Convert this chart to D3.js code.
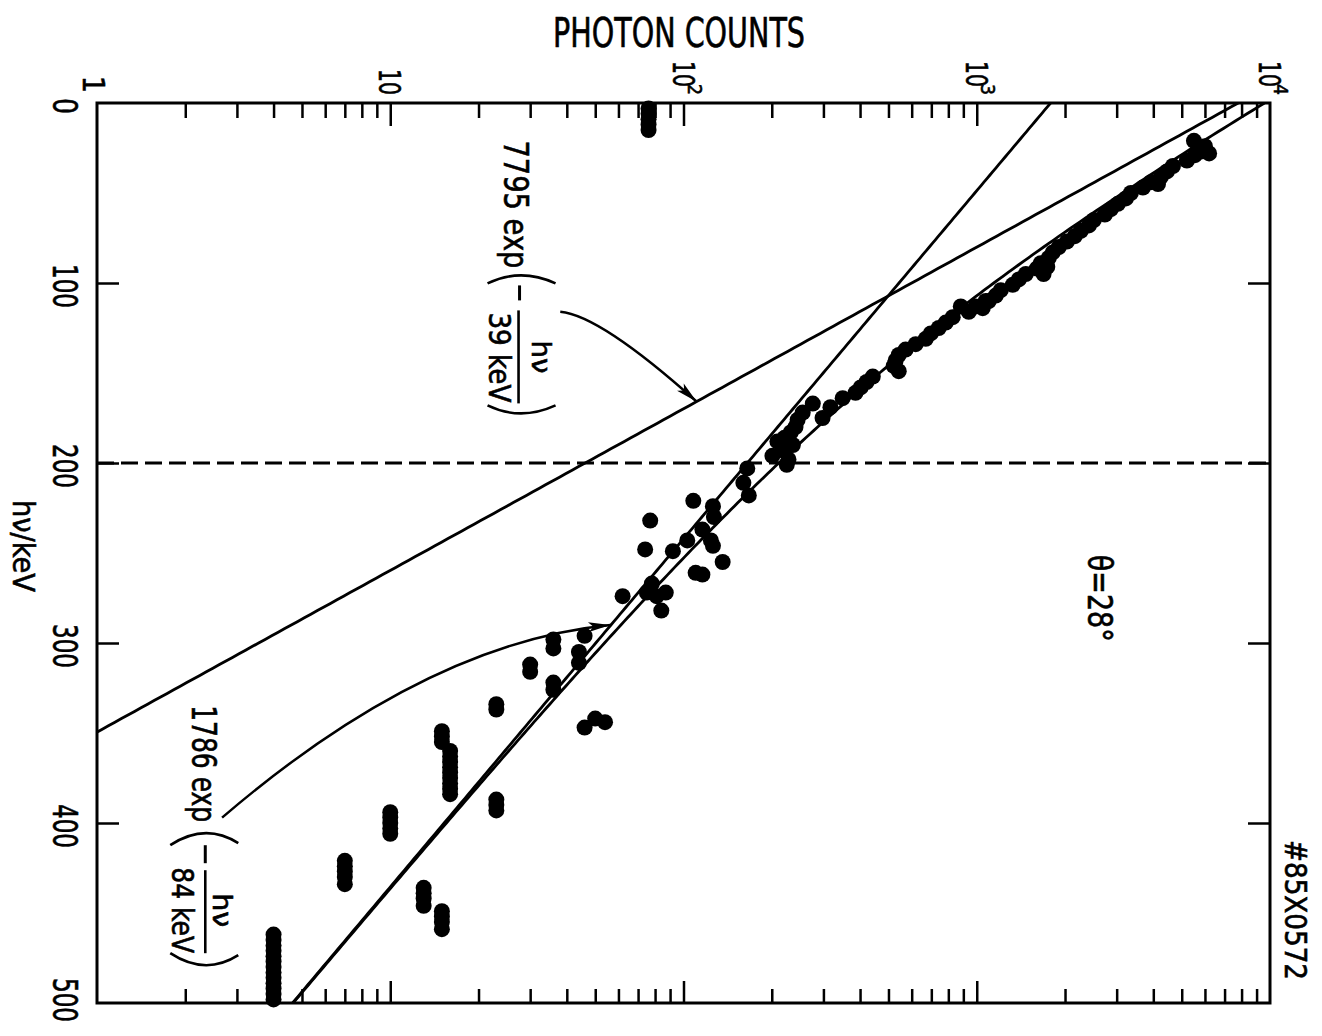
<!DOCTYPE html>
<html>
<head>
<meta charset="utf-8">
<script src="https://cdn.jsdelivr.net/npm/d3@7"></script>
<style>
  body { margin: 0; background: #fff; }
  text { font-family: "Liberation Sans Narrow", "DejaVu Sans Condensed", "Liberation Sans", sans-serif; fill: #000; stroke: #000; stroke-width: 0.6; }
</style>
</head>
<body>
<script>
  // axis ticks
  const countDecades = [1, 10, 100, 1000, 10000];
  const countExponents = ["", "", "2", "3", "4"];
  const energyTicks = [0, 100, 200, 300, 400, 500];

  // fitted components: A * exp(-hv / T)
  const fitAmplitude = [7795, 1786];
  const fitTemperature = [39, 84];

  // measured spectrum, theta = 28 deg
  const energyKeV = [
    3, 6, 9, 12, 15,
    21, 24, 27, 29, 32, 35, 38, 41, 44, 47, 50, 53, 56, 59, 62, 65, 68, 71, 74, 77,
    80, 83, 86, 89, 92, 95, 98, 101, 104, 107, 110, 113, 113, 116, 119, 122, 125, 128,
    131, 134, 137, 140, 143, 146, 149, 152, 155, 158, 161, 164, 167, 169, 172, 175, 176,
    180, 183, 186, 188, 190, 193, 196, 198, 201,
    91, 95, 110, 114, 28, 45,
    203, 211, 218, 221, 224, 230, 237, 243, 246, 232, 248, 243, 261, 262, 255, 249,
    267, 272, 274, 274, 272, 282,
    296, 298, 303, 305, 311, 312, 316, 322, 326, 334, 337, 347, 342, 344,
    349, 352, 355,
    360, 363, 366, 369, 372, 375, 378, 381, 384,
    387, 390, 393,
    394, 397, 400, 403, 406,
    421, 424, 427, 430, 434,
    436, 439, 442, 446,
    449, 452, 455, 459,
    462, 465, 468, 471, 474, 477, 480, 483, 486, 489, 492, 495, 498
  ];
  const photonCounts = [
    76, 76, 76, 76, 76,
    5504, 6000, 5815, 5546, 5208, 4667, 4452, 4246, 3925, 3686, 3354, 3225, 3029, 2867, 2734, 2507, 2412, 2264, 2160, 2029,
    1905, 1817, 1761, 1653, 1602, 1470, 1391, 1327, 1208, 1161, 1099, 992, 882, 939, 828, 784, 742, 697,
    670, 619, 572, 542, 529, 521, 542, 442, 421, 402, 386, 349, 276, 317, 255, 298, 245,
    241, 232, 221, 209, 236, 218, 201, 228, 225,
    1740, 1690, 1073, 1048, 6200, 4150,
    165, 160, 167, 108, 126, 127, 116, 124, 126, 77, 74, 103, 110, 116, 136, 92,
    78, 75, 62, 81, 87, 84,
    46, 36, 36, 44, 44, 30, 30, 36, 36, 23, 23, 46, 50, 54,
    15, 15, 15,
    16, 16, 16, 16, 16, 16, 16, 16, 16,
    23, 23, 23,
    10, 10, 10, 10, 10,
    7, 7, 7, 7, 7,
    13, 13, 13, 13,
    15, 15, 15, 15,
    4, 4, 4, 4, 4, 4, 4, 4, 4, 4, 4, 4, 4
  ];

  // annotation arrows (keV, counts): start, control, tip
  const arrow39 = [[116, 38], [118, 52], [166, 111]];
  const arrow84 = [[397, 2.67], [300, 13.2], [290, 56.3]];

  const width = 1322, height = 1036;

  const svg = d3.select('body')
    .append('svg')
    .attr('width', width)
    .attr('height', height)
    .style('background', '#fff');

  const x = d3.scaleLog().domain([1, 10000]).range([97, 1270]);
  const y = d3.scaleLinear().domain([0, 500]).range([103, 1003]);

  const [x0, x1] = x.range();
  const [y0, y1] = y.range();

  svg.append('clipPath').attr('id', 'plot')
    .append('rect')
    .attr('x', x0).attr('y', y0)
    .attr('width', x1 - x0).attr('height', y1 - y0);

  // ticks
  const minor = [];
  countDecades.slice(0, 4).forEach(function(d) {
    for (let k = 2; k <= 9; k++) minor.push(d * k);
  });
  const major = [10, 100, 1000];

  function styleAxis(g) {
    g.select('.domain').remove();
    g.selectAll('.tick line').attr('stroke', '#000').attr('stroke-width', 2.5);
  }

  svg.append('g').attr('transform', 'translate(0,' + y0 + ')')
    .call(d3.axisTop(x).tickValues(minor).tickSize(-15).tickFormat(''))
    .call(styleAxis);
  svg.append('g').attr('transform', 'translate(0,' + y0 + ')')
    .call(d3.axisTop(x).tickValues(major).tickSize(-23).tickFormat(''))
    .call(styleAxis);
  svg.append('g').attr('transform', 'translate(0,' + y1 + ')')
    .call(d3.axisBottom(x).tickValues(minor).tickSize(-14).tickFormat(''))
    .call(styleAxis);
  svg.append('g').attr('transform', 'translate(0,' + y1 + ')')
    .call(d3.axisBottom(x).tickValues(major).tickSize(-22).tickFormat(''))
    .call(styleAxis);
  svg.append('g').attr('transform', 'translate(' + x0 + ',0)')
    .call(d3.axisLeft(y).tickValues(energyTicks.slice(1, 5)).tickSize(-22).tickFormat(''))
    .call(styleAxis);
  svg.append('g').attr('transform', 'translate(' + x1 + ',0)')
    .call(d3.axisRight(y).tickValues(energyTicks.slice(1, 5)).tickSize(-22).tickFormat(''))
    .call(styleAxis);

  // frame
  svg.append('rect')
    .attr('x', x0).attr('y', y0)
    .attr('width', x1 - x0).attr('height', y1 - y0)
    .attr('fill', 'none')
    .attr('stroke', '#000')
    .attr('stroke-width', 3);

  // dashed line at 200 keV
  svg.append('line')
    .attr('x1', x0).attr('x2', x1)
    .attr('y1', y(200)).attr('y2', y(200))
    .attr('stroke', '#000')
    .attr('stroke-width', 3)
    .attr('stroke-dasharray', '17,7');

  // fit lines
  const hv = d3.range(0, 501, 2);
  function component(i) {
    return function(e) { return fitAmplitude[i] * Math.exp(-e / fitTemperature[i]); };
  }
  const c39 = component(0), c84 = component(1);

  const line = d3.line()
    .defined(function(d) { return d[1] > 0.5; })
    .x(function(d) { return x(d[1]); })
    .y(function(d) { return y(d[0]); });

  const fitG = svg.append('g').attr('clip-path', 'url(#plot)')
    .attr('fill', 'none').attr('stroke', '#000').attr('stroke-width', 2.8);

  fitG.append('path').attr('d', line(hv.map(function(e) { return [e, c39(e)]; })));
  fitG.append('path').attr('d', line(hv.map(function(e) { return [e, c84(e)]; })));
  fitG.append('path').attr('d', line(hv.map(function(e) { return [e, c39(e) + c84(e)]; })));

  // data points
  svg.append('g').selectAll('circle')
    .data(energyKeV.map(function(e, i) { return [e, photonCounts[i]]; }))
    .enter().append('circle')
    .attr('cx', function(d) { return x(d[1]); })
    .attr('cy', function(d) { return y(d[0]); })
    .attr('r', 8)
    .attr('fill', '#000');

  // arrows
  const defs = svg.append('defs');
  defs.append('marker')
    .attr('id', 'head')
    .attr('markerUnits', 'userSpaceOnUse')
    .attr('viewBox', '-24 -8 26 16')
    .attr('refX', 0).attr('refY', 0)
    .attr('markerWidth', 26).attr('markerHeight', 16)
    .attr('orient', 'auto')
    .append('path')
    .attr('d', 'M0,0 L-22,-5 L-17,0 L-22,5 Z')
    .attr('fill', '#000');

  function arrow(pts) {
    const p = d3.path();
    p.moveTo(x(pts[0][1]), y(pts[0][0]));
    p.quadraticCurveTo(x(pts[1][1]), y(pts[1][0]), x(pts[2][1]), y(pts[2][0]));
    svg.append('path')
      .attr('d', p.toString())
      .attr('fill', 'none')
      .attr('stroke', '#000')
      .attr('stroke-width', 2.5)
      .attr('marker-end', 'url(#head)');
  }
  arrow(arrow39);
  arrow(arrow84);

  // rotated text helper (reads top to bottom)
  function vtext(g, px, py, str, size, len, anchor) {
    const t = g.append('text')
      .attr('transform', 'translate(' + px + ',' + py + ') rotate(90)')
      .attr('font-size', size)
      .attr('text-anchor', anchor || 'start')
      .text(str);
    if (len) t.attr('textLength', len).attr('lengthAdjust', 'spacingAndGlyphs');
    return t;
  }

  // count tick labels
  countDecades.forEach(function(v, i) {
    const bx = x(v) - 11;
    if (v === 1) {
      vtext(svg, bx - 3, 93, '1', 30, null, 'end');
    } else if (v === 10) {
      vtext(svg, bx, 95, '10', 30, 26, 'end');
    } else {
      vtext(svg, bx, 87, '10', 30, 26, 'end');
      vtext(svg, bx + 15, 84, countExponents[i], 20, 11, 'start');
    }
  });

  // energy tick labels
  energyTicks.forEach(function(v) {
    const s = String(v);
    vtext(svg, 53, Math.min(y(v) + 3, 1000), s, 34, s.length > 1 ? 44 : 16, 'middle');
  });

  // axis titles
  svg.append('text')
    .attr('x', 553).attr('y', 47)
    .attr('font-size', 40)
    .attr('textLength', 252)
    .attr('lengthAdjust', 'spacingAndGlyphs')
    .text('PHOTON COUNTS');

  vtext(svg, 13, 500, 'hν/keV', 31, 92);

  // theta label and figure number
  vtext(svg, x(2390), y(251), 'θ=28°', 34, 87);
  vtext(svg, 1285, 840, '#85X0572', 30, 140);

  // formula labels
  function formula(anchor, lay) {
    const g = svg.append('g')
      .attr('transform', 'translate(' + x(anchor[1]) + ',' + y(anchor[0]) + ')');
    vtext(g, lay.main[0], lay.main[1], lay.text, 33, lay.main[2]);
    vtext(g, lay.den[0], lay.den[1], lay.denText, 30, lay.den[2]);
    vtext(g, lay.num[0], lay.num[1], 'hν', 27, lay.num[2]);
    g.append('path').attr('d', lay.open).attr('fill', 'none').attr('stroke', '#000').attr('stroke-width', 2.6);
    g.append('path').attr('d', lay.close).attr('fill', 'none').attr('stroke', '#000').attr('stroke-width', 2.6);
    g.append('line').attr('x1', 0).attr('x2', 0).attr('y1', lay.minus[0]).attr('y2', lay.minus[1])
      .attr('stroke', '#000').attr('stroke-width', 3);
    g.append('line').attr('x1', lay.bar[0]).attr('x2', lay.bar[0]).attr('y1', lay.bar[1]).attr('y2', lay.bar[2])
      .attr('stroke', '#000').attr('stroke-width', 2.6);
  }

  formula([98, 27.6], {
    text: '7795 exp', main: [-16, -139, 128],
    denText: '39 keV', den: [-31, 33, 90],
    num: [12, 61, 33],
    open: 'M-32,4 Q1,-12 36,4', close: 'M-32,126 Q1,142 36,126',
    minus: [6, 21], bar: [-1, 31, 124]
  });

  formula([409, 2.34], {
    text: '1786 exp', main: [-13, -134, 117],
    denText: '84 keV', den: [-33, 28, 86],
    num: [8, 54, 34],
    open: 'M-35,6 Q0,-17 33,4', close: 'M-35,114 Q0,137 33,116',
    minus: [6, 24], bar: [0, 31, 114]
  });
</script>
</body>
</html>
